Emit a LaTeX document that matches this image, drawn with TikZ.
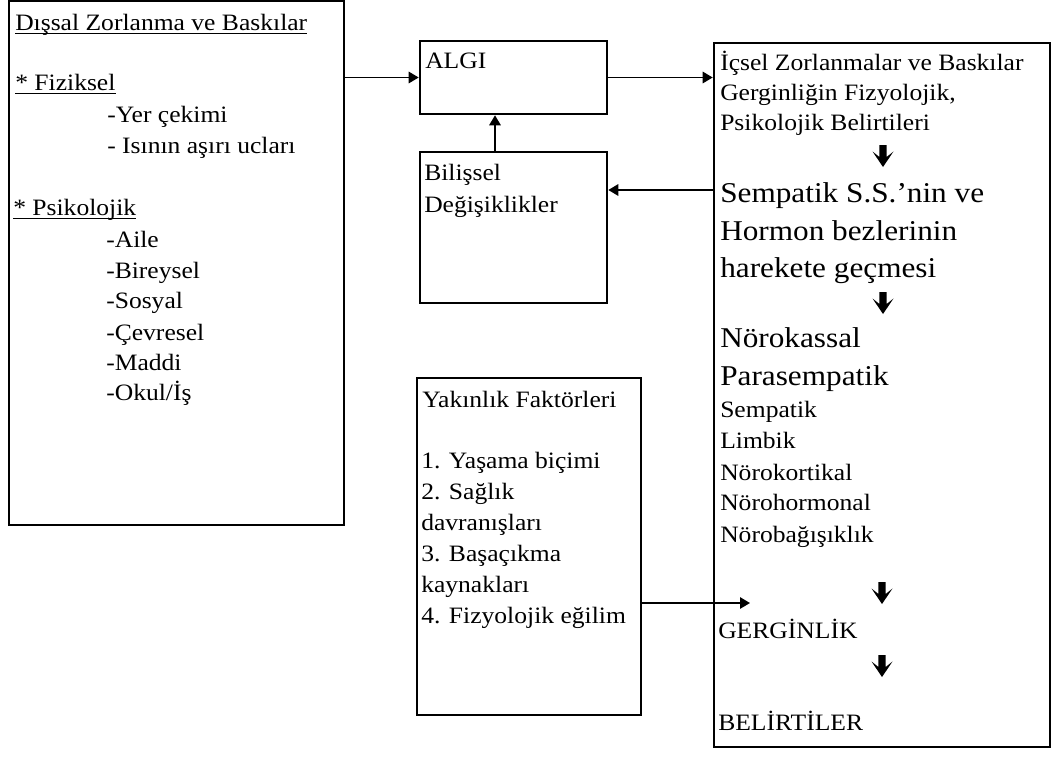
\documentclass[tikz,border=0pt]{standalone}
\usepackage{fontspec}
\setmainfont{Liberation Serif}[FakeStretch=1.09]
\usetikzlibrary{arrows.meta,fit}
\tikzset{
  box/.style={draw, line width=1.9pt, inner sep=0pt},
  arr/.style={line width=1.4pt, -{Triangle[length=7.5pt,width=8.5pt]}},
  txt/.style={inner sep=0pt, anchor=base west, font=\fontsize{17.6pt}{21pt}\selectfont},
  big/.style={inner sep=0pt, anchor=base west, font=\fontsize{21.5pt}{26pt}\selectfont},
  uline/.style={line width=1pt},
  thickdown/.pic={\fill (-3.6,0) -- (3.6,0) -- (3.6,12) -- (10.5,6.5) -- (0,22) -- (-10.5,6.5) -- (-3.6,12) -- cycle;}
}
\begin{document}
\begin{tikzpicture}[x=0.75pt,y=-0.75pt]
\fill[white] (0,0) rectangle (1063,760);
\useasboundingbox (0,0) rectangle (1063,760);

% boxes
\node[box, fit={(9,1) (344,525)}] (left) {};
\node[box, fit={(420,41) (607,114)}] (algi) {};
\node[box, fit={(420,152) (607,303)}] (bil) {};
\node[box, fit={(417,378) (641,715)}] (yak) {};
\node[box, fit={(714,43) (1050,747)}] (right) {};

% left box text
\node[txt] (t1) at (15,30) {Dışsal Zorlanma ve Baskılar};
\node[txt] (t2) at (15,90) {* Fiziksel};
\node[txt] (t3) at (107,122) {-Yer çekimi};
\node[txt] (t4) at (107,153) {- Isının aşırı ucları};
\node[txt] (t5) at (13,215) {* Psikolojik};
\node[txt] (ps1) at (106,247) {-Aile};
\node[txt] (ps2) at (106,278) {-Bireysel};
\node[txt] (ps3) at (106,308) {-Sosyal};
\node[txt] (ps4) at (106,340) {-Çevresel};
\node[txt] (ps5) at (106,370) {-Maddi};
\node[txt] (ps6) at (106,400) {-Okul/İş};
\foreach \n in {t1,t2,t5}
  \draw[uline] ([yshift=-2.4pt]\n.base west) -- ([yshift=-2.4pt]\n.base east);

% ALGI and Bilissel
\node[txt] (algitxt) at (425,68) {ALGI};
\node[txt] (bil1) at (424,180) {Bilişsel};
\node[txt] (bil2) at (424,212) {Değişiklikler};

% Yakinlik
\node[txt] (yk0) at (422,407) {Yakınlık Faktörleri};
\node[txt] (yk1) at (421,468) {1. Yaşama biçimi};
\node[txt] (yk2) at (421,499) {2. Sağlık};
\node[txt] (yk3) at (421,530) {davranışları};
\node[txt] (yk4) at (421,561) {3. Başaçıkma};
\node[txt] (yk5) at (421,592) {kaynakları};
\node[txt] (yk6) at (421,623) {4. Fizyolojik eğilim};

% right box text
\node[txt] (r1) at (720,70) {İçsel Zorlanmalar ve Baskılar};
\node[txt] (r2) at (720,100) {Gerginliğin Fizyolojik,};
\node[txt] (r3) at (720,130) {Psikolojik Belirtileri};
\pic at (883,145) {thickdown};
\node[big] (r4) at (720,202) {Sempatik S.S.’nin ve};
\node[big] (r5) at (720,240) {Hormon bezlerinin};
\node[big] (r6) at (720,277) {harekete geçmesi};
\pic at (883,292) {thickdown};
\node[big] (r7) at (720,347) {Nörokassal};
\node[big] (r8) at (720,385) {Parasempatik};
\node[txt] (r9) at (720,417) {Sempatik};
\node[txt] (r10) at (720,448) {Limbik};
\node[txt] (r11) at (720,480) {Nörokortikal};
\node[txt] (r12) at (720,510) {Nörohormonal};
\node[txt] (r13) at (720,542) {Nörobağışıklık};
\pic at (882,582) {thickdown};
\node[txt] (r14) at (718,638) {GERGİNLİK};
\pic at (882,655) {thickdown};
\node[txt] (r15) at (718,730) {BELİRTİLER};

% connectors
\coordinate (upx) at (495,0);
\coordinate (y190) at (0,190);
\coordinate (y603) at (0,603);
\coordinate (tipG) at (750,603);
\draw[arr] (left.east |- algi.west) -- (algi.west);
\draw[arr] (algi.east) -- (algi.east -| right.west);
\draw[arr] (bil.north -| upx) -- (algi.south -| upx);
\draw[arr] (right.west |- y190) -- (bil.east |- y190);
\draw[arr] (yak.east |- y603) -- (tipG);
\end{tikzpicture}
\end{document}
